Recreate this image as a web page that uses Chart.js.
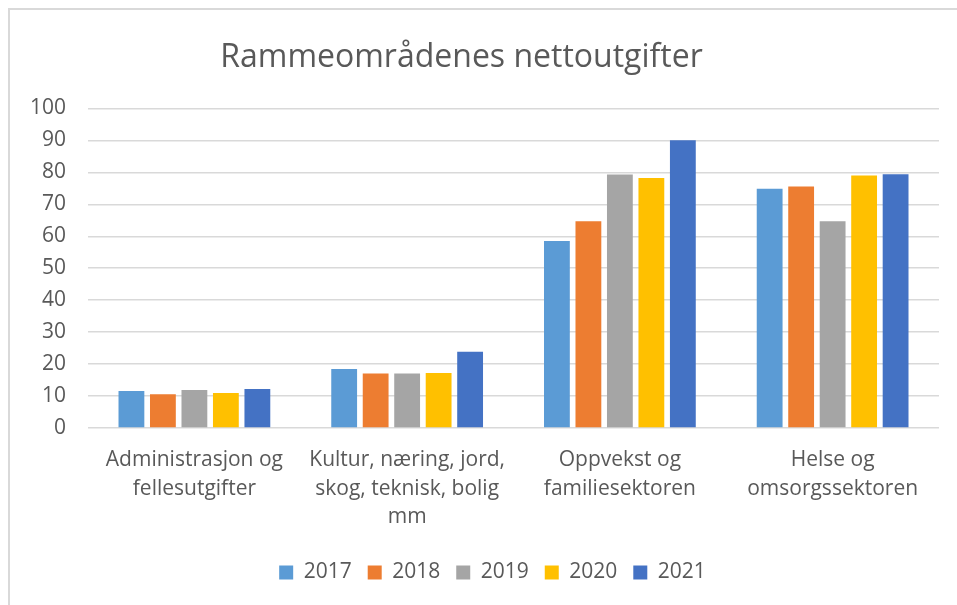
<!DOCTYPE html>
<html>
<head>
<meta charset="utf-8">
<script src="https://cdn.jsdelivr.net/npm/chart.js@4"></script>
<style>
  html, body { margin: 0; padding: 0; background: #fff; }
  .frame { position: absolute; left: 8px; top: 8px; width: 960px; height: 610px;
           border-left: 2px solid #d9d9d9; border-top: 2px solid #d9d9d9; }
  .container_for_chart { position: absolute; left: 0; top: 0; width: 957px; height: 605px; }
</style>
</head>
<body>
<div class="frame"></div>
<div class="container_for_chart">
  <canvas id="nettoutgifter" width="957" height="605"></canvas>
</div>
<script>
const categories = [
  ['Administrasjon og', 'fellesutgifter'],
  ['Kultur, næring, jord,', 'skog, teknisk, bolig', 'mm'],
  ['Oppvekst og', 'familiesektoren'],
  ['Helse og', 'omsorgssektoren']
]
const years = ['2017', '2018', '2019', '2020', '2021']
const values2017 = [11.6, 18.5, 58.5, 74.9]
const values2018 = [10.6, 17.1, 64.7, 75.6]
const values2019 = [11.9, 17.1, 79.3, 64.7]
const values2020 = [11.0, 17.2, 78.2, 79.0]
const values2021 = [12.2, 23.9, 90.0, 79.4]
const yTicks = [0, 10, 20, 30, 40, 50, 60, 70, 80, 90, 100]

const colors = ['#5B9BD5', '#ED7D31', '#A5A5A5', '#FFC000', '#4472C4']
const series = [values2017, values2018, values2019, values2020, values2021]

const textColor = '#595959'
const fontFamily = '"Open Sans", sans-serif'

// title sits a little left of centre, legend a little right, like in the original
const nudgeBlocks = {
  id: 'nudgeBlocks',
  afterLayout(chart) {
    chart.titleBlock.left -= 12
    chart.titleBlock.right -= 12
    chart.legend.left += 19
    chart.legend.right += 19
  }
}

const ctx = document.getElementById('nettoutgifter')

new Chart(ctx, {
  type: 'bar',
  data: {
    labels: categories,
    datasets: series.map((vals, i) => ({
      label: years[i],
      data: vals,
      backgroundColor: colors[i],
      borderWidth: 0,
      categoryPercentage: 0.74,
      barPercentage: 0.82
    }))
  },
  options: {
    responsive: false,
    animation: false,
    layout: {
      padding: { left: 8, right: 18, top: 0, bottom: 12 }
    },
    plugins: {
      title: {
        display: true,
        text: 'Rammeområdenes nettoutgifter',
        color: textColor,
        font: { family: fontFamily, size: 32, weight: 'normal' },
        padding: { top: 39, bottom: 31 }
      },
      legend: {
        position: 'bottom',
        labels: {
          color: textColor,
          font: { family: fontFamily, size: 21 },
          boxWidth: 14,
          boxHeight: 14,
          padding: 16
        }
      },
      tooltip: { enabled: false }
    },
    scales: {
      x: {
        grid: { display: false },
        border: { display: false },
        afterFit: axis => { axis.height += 5 },
        ticks: {
          color: textColor,
          font: { family: fontFamily, size: 21, lineHeight: 1.38 },
          maxRotation: 0,
          autoSkip: false,
          padding: 9
        }
      },
      y: {
        min: 0,
        max: 100,
        afterBuildTicks: axis => { axis.ticks = yTicks.map(v => ({ value: v })) },
        grid: { color: '#d9d9d9', lineWidth: 1.5, drawTicks: false },
        border: { display: false },
        ticks: {
          color: textColor,
          font: { family: fontFamily, size: 21 },
          padding: 22
        }
      }
    }
  },
  plugins: [nudgeBlocks]
})
</script>
</body>
</html>
